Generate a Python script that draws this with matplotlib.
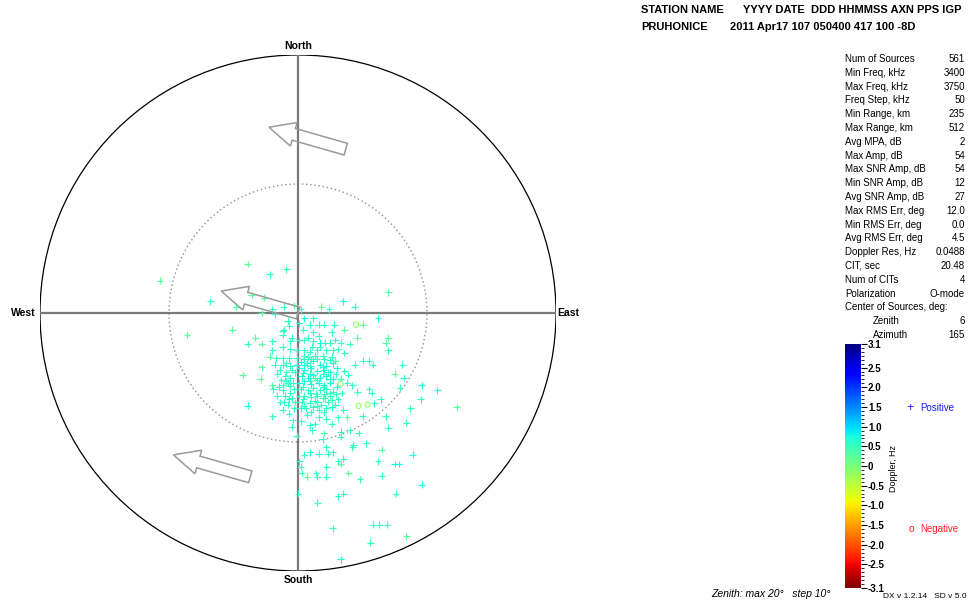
import numpy as np
import matplotlib as mpl
import matplotlib.pyplot as plt
from matplotlib.patches import Circle, FancyArrow
from matplotlib.colors import Normalize
from matplotlib.ticker import FixedLocator, MultipleLocator

plt.rcParams['font.family'] = ['Liberation Sans', 'DejaVu Sans']

# Положения источников (восток, север) в градусах зенитного угла, по группам доплера
dop_a = 0.75
src_a = [(0.5, -0.4), (-0.1, -4.0), (3.5, 0.9), (6.2, -0.4), (1.7, -2.3), (9.6, -5.6), (10.8, -6.0),
         (-3.9, -7.2), (8.9, -11.0), (7.5, -11.7), (7.8, -11.7), (9.6, -13.3), (3.3, -19.1),
         (0.2, -3.8), (0.7, -3.9), (1.2, -3.7), (1.7, -4.0), (2.2, -4.1), (2.7, -3.9), (0.1, -4.3),
         (0.5, -4.4), (1.0, -4.3), (1.5, -4.5), (2.0, -4.4), (2.5, -4.6), (3.0, -4.3), (0.3, -4.9),
         (0.8, -5.0), (1.2, -4.8), (1.7, -5.0), (2.2, -4.9), (2.7, -5.1), (0.1, -5.4), (0.5, -5.3),
         (1.0, -5.5), (1.6, -5.4), (2.0, -5.6), (2.5, -5.4), (3.0, -5.7)]

dop_b = 0.55
src_b = [(-2.2, 3.0), (-0.9, 3.4), (-6.8, 0.9), (-2.0, 0.3), (-1.1, 0.5), (0.2, 0.3), (-1.8, -0.1),
         (-3.9, -2.4), (-2.0, -2.2), (-0.8, -0.6), (-0.7, -1.0), (0.4, -1.3), (-1.2, -1.4), (-1.2, -1.7),
         (-0.5, -1.9), (-0.6, -2.2), (0.1, -2.1), (0.5, -2.1), (-1.2, -2.6), (-0.6, -2.8), (-0.1, -2.9),
         (0.5, -2.9), (-1.7, -3.5), (-1.2, -3.5), (-0.7, -3.5), (-0.1, -3.5), (0.5, -3.3), (-2.0, -2.9),
         (-1.8, -4.0), (-1.2, -4.0), (-0.6, -4.1), (0.5, -4.0),
         (2.4, 0.3), (4.4, 0.5), (1.2, -0.4), (0.1, -0.8), (0.9, -0.9), (1.6, -0.9), (2.0, -0.9),
         (2.8, -0.9), (-1.1, -1.3), (1.2, -1.5), (2.6, -1.5), (2.1, -2.3), (2.5, -2.3), (2.9, -2.1),
         (3.3, -2.3), (4.0, -2.4), (1.1, -2.6), (1.7, -2.6), (2.2, -2.9), (2.7, -2.9), (7.0, -2.9),
         (0.8, -3.4), (1.3, -3.3), (1.9, -3.3), (2.6, -3.4), (5.0, -3.7), (5.5, -3.7), (5.8, -4.0),
         (4.4, -4.0), (8.1, -4.0), (3.6, -4.5), (2.3, -4.6), (3.9, -4.8), (3.3, -5.1), (8.2, -5.0),
         (-0.6, -5.0), (4.2, -5.6), (3.8, -5.4), (7.9, -5.8), (5.5, -5.9), (5.7, -6.2), (4.6, -6.1),
         (6.4, -6.7), (9.5, -6.7), (5.9, -7.0), (8.7, -7.4), (-2.0, -8.0), (-1.2, -7.5), (-0.4, -8.3),
         (0.7, -7.9), (1.6, -8.1), (2.2, -8.2), (3.1, -8.1), (5.0, -8.0), (6.8, -8.0), (8.4, -8.5),
         (-0.5, -8.8), (0.9, -8.7), (1.1, -9.1), (3.3, -9.2), (4.0, -9.1), (4.7, -9.3), (7.0, -8.9),
         (-0.1, -9.5), (1.9, -9.8), (3.3, -9.6), (4.3, -10.2), (5.3, -10.1), (2.2, -10.4), (4.2, -10.4),
         (0.9, -10.8), (1.6, -10.9), (2.3, -10.9), (2.7, -10.8), (0.5, -11.0), (3.5, -11.3),
         (6.2, -11.5), (0.1, -11.5), (0.2, -11.9), (2.2, -11.9), (3.1, -11.5), (0.3, -12.4), (1.4, -12.4),
         (1.5, -12.7), (2.2, -12.7), (4.8, -12.9), (6.5, -12.6), (0.0, -14.0), (1.5, -14.7), (3.1, -14.2),
         (3.5, -14.0), (7.6, -14.0), (2.7, -16.7), (5.8, -16.4), (6.3, -16.4), (6.9, -16.4), (5.6, -17.8),
         (-1.9, -5.9), (-1.2, -6.0), (-0.6, -6.2), (-0.7, -6.7), (-0.9, -3.9), (-1.6, -4.7), (-1.0, -4.9),
         (-0.8, -5.4),
         (0.2, -5.9), (0.8, -6.0), (1.2, -5.8), (1.7, -6.0), (2.2, -5.9), (2.7, -6.1), (0.1, -6.4),
         (0.5, -6.4), (1.0, -6.5), (1.5, -6.4), (1.9, -6.6), (2.5, -6.4), (3.1, -6.7), (0.3, -6.9),
         (0.9, -7.0), (1.3, -6.8), (1.8, -7.1), (2.3, -6.9), (2.9, -7.1), (0.2, -7.4), (0.6, -7.4),
         (1.2, -7.3), (1.6, -7.5), (2.2, -7.4),
         (-1.4, -4.4), (-0.9, -4.6), (-0.5, -4.4), (-1.3, -5.2), (-0.9, -5.3), (-0.4, -5.4), (-1.5, -5.7),
         (-1.0, -6.4), (-0.5, -6.6), (-1.4, -6.9), (-0.8, -7.1), (-0.3, -7.4), (-1.6, -6.4), (-1.1, -6.9),
         (0.8, -1.9), (1.2, -2.2), (1.6, -1.8), (0.9, -3.0), (1.5, -2.9), (2.0, -3.6), (1.0, -3.6),
         # плотное ядро
         (0.45, -3.6), (0.95, -4.1), (1.45, -3.55), (1.95, -4.15), (2.45, -3.65), (0.4, -4.65),
         (0.95, -4.7), (1.45, -5.2), (1.95, -4.7), (2.45, -5.15), (2.95, -4.75), (0.35, -5.7),
         (0.9, -5.25), (1.4, -6.25), (1.95, -5.75), (2.45, -6.2), (2.95, -6.3), (0.4, -6.7),
         (0.95, -6.2), (1.5, -6.9), (2.05, -6.25), (2.6, -6.75), (0.45, -7.2), (1.0, -7.7),
         (1.45, -7.2), (2.0, -7.7), (2.6, -7.3), (-0.25, -4.6), (-0.3, -5.9), (-0.2, -6.9),
         (-0.65, -5.65), (-1.2, -5.6), (-0.7, -7.8), (0.25, -8.4), (1.3, -8.6), (2.6, -8.6),
         (3.4, -6.2), (3.5, -7.5), (3.6, -3.1), (3.1, -2.8)]

dop_c = 0.25
src_c = [(-10.7, 2.5), (-3.9, 3.8), (-4.8, 0.5), (-3.6, 1.4), (-2.6, 1.2), (-0.3, 0.6), (-2.8, 0.0),
         (-5.1, -1.3), (-8.6, -1.7), (-3.3, -1.9), (-2.8, -2.4), (-2.2, -3.4), (-2.8, -4.2), (1.8, 0.5),
         (5.0, -0.9), (3.6, -1.3), (4.6, -1.9), (7.0, -1.9), (6.8, -2.3), (2.9, -3.7), (7.5, -4.7),
         (-2.9, -5.1), (12.3, -7.3), (3.8, -8.1), (2.0, -9.3), (6.5, -10.6), (3.3, -11.7), (0.7, -12.7),
         (3.9, -12.4), (8.4, -17.3), (-4.3, -4.8), (-2.0, -5.6), (7.0, 1.6), (1.3, -5.0), (2.1, -6.6)]

# источники с отрицательным доплером
dop_neg = -0.15
src_neg = [(4.5, -0.9), (3.3, -5.5), (5.4, -7.1), (4.7, -7.2)]

# векторы дрейфа: начало (восток, север) и смещение, град
arrow_east = [3.7, 0.0, -3.7]
arrow_north = [12.7, 0.0, -12.7]
arrow_dx = -5.95
arrow_dy = 1.7

stat_names = ['Num of Sources', 'Min Freq, kHz', 'Max Freq, kHz', 'Freq Step, kHz', 'Min Range, km',
              'Max Range, km', 'Avg MPA, dB', 'Max Amp, dB', 'Max SNR Amp, dB', 'Min SNR Amp, dB',
              'Avg SNR Amp, dB', 'Max RMS Err, deg', 'Min RMS Err, deg', 'Avg RMS Err, deg',
              'Doppler Res, Hz', 'CIT, sec', 'Num of CITs', 'Polarization', 'Center of Sources, deg:',
              'Zenith', 'Azimuth']
stat_values = ['561', '3400', '3750', '50', '235', '512', '2', '54', '54', '12', '27', '12.0', '0.0',
               '4.5', '0.0488', '20.48', '4', 'O-mode', '', '6', '165']

cb_ticks = [3.1, 2.5, 2.0, 1.5, 1.0, 0.5, 0, -0.5, -1.0, -1.5, -2.0, -2.5, -3.1]
cb_labels = ['3.1', '2.5', '2.0', '1.5', '1.0', '0.5', '0', '-0.5', '-1.0', '-1.5', '-2.0', '-2.5', '-3.1']

W, H = 975, 604


def fx(x):
    return x / W


def fy(y):
    return 1 - y / H


fig = plt.figure(figsize=(W / 100, H / 100), dpi=100)
ax = fig.add_axes([fx(40), 33 / H, 516 / W, 516 / H])
ax.set_xlim(-20, 20)
ax.set_ylim(-20, 20)
ax.set_aspect('equal')
ax.axis('off')

cmap = plt.get_cmap('jet_r')
norm = Normalize(-3.1, 3.1)

# сетка: внешний круг, крест и пунктир 10 град
ax.add_patch(Circle((0, 0), 20, fill=False, ec='black', lw=0.9))
ax.add_patch(Circle((0, 0), 10, fill=False, ec='#909090', lw=1.0, ls=(0, (1, 2))))
ax.plot([-20, 20], [0, 0], color='#7a7a7a', lw=1.6, solid_capstyle='butt')
ax.plot([0, 0], [-20, 20], color='#7a7a7a', lw=1.6, solid_capstyle='butt')

for pts, d in [(src_c, dop_c), (src_b, dop_b), (src_a, dop_a)]:
    p = np.array(pts)
    ax.scatter(p[:, 0], p[:, 1], c=np.full(len(p), d), cmap=cmap, norm=norm,
               marker='+', s=24, linewidths=0.85, zorder=3)
p = np.array(src_neg)
ax.scatter(p[:, 0], p[:, 1], marker='o', s=14, facecolors='none',
           edgecolors=cmap(norm(dop_neg)), linewidths=0.8, zorder=3)

for x0, y0 in zip(arrow_east, arrow_north):
    ax.add_patch(FancyArrow(x0, y0, arrow_dx, arrow_dy, width=0.94, head_width=1.9, head_length=2.0,
                            length_includes_head=True, fill=False, ec='#9a9a9a', lw=1.1, zorder=4))

bold = dict(fontsize=7.5, fontweight='bold')
fig.text(fx(298), fy(46), 'North', ha='center', va='center', **bold)
fig.text(fx(298), fy(580), 'South', ha='center', va='center', **bold)
fig.text(fx(23), fy(313), 'West', ha='center', va='center', **bold)
fig.text(fx(568), fy(313), 'East', ha='center', va='center', **bold)

# заголовок станции
hdr = dict(fontsize=8, fontweight='bold', va='center')
fig.text(fx(641), fy(10), 'STATION NAME', **hdr)
fig.text(fx(743), fy(10), 'YYYY DATE  DDD HHMMSS AXN PPS IGP', **hdr)
fig.text(fx(641), fy(27), 'PRUHONICE', **hdr)
fig.text(fx(730), fy(27), '2011 Apr17 107 050400 417 100 -8D', **hdr)

# таблица параметров
for i, (name, val) in enumerate(zip(stat_names, stat_values)):
    y = 59 + i * 13.8
    x = 873 if name in ('Zenith', 'Azimuth') else 845
    fig.text(fx(x), fy(y), name, fontsize=7, va='center')
    fig.text(fx(965), fy(y), val, fontsize=7, va='center', ha='right')

# шкала доплера
cax = fig.add_axes([fx(845), 16 / H, 16 / W, 244 / H])
cb = fig.colorbar(mpl.cm.ScalarMappable(norm=norm, cmap=cmap), cax=cax)
cb.outline.set_visible(False)
cb.ax.yaxis.set_major_locator(FixedLocator(cb_ticks))
cb.ax.set_yticklabels(cb_labels, fontsize=7, fontweight='bold')
cb.ax.yaxis.set_minor_locator(MultipleLocator(0.1))
cb.ax.tick_params(which='major', length=4, width=0.8, pad=1)
cb.ax.tick_params(which='minor', length=2, width=0.6)
fig.text(fx(894), fy(468), 'Doppler, Hz', fontsize=6.5, rotation=90, ha='center', va='center')

fig.text(fx(910), fy(408), '+', color='#1a1aff', fontsize=9, ha='center', va='center')
fig.text(fx(920), fy(408), 'Positive', color='#1a1aff', fontsize=7, va='center')
fig.text(fx(911), fy(529), 'o', color='#ff2020', fontsize=7.5, ha='center', va='center')
fig.text(fx(920), fy(529), 'Negative', color='#ff2020', fontsize=7, va='center')

fig.text(fx(711), fy(594), 'Zenith: max 20°   step 10°', fontsize=7.5, style='italic', va='center')
fig.text(fx(883), fy(596), 'DX v 1.2.14   SD v 5.0', fontsize=6, va='center')

fig.savefig('out.png', dpi=100)
